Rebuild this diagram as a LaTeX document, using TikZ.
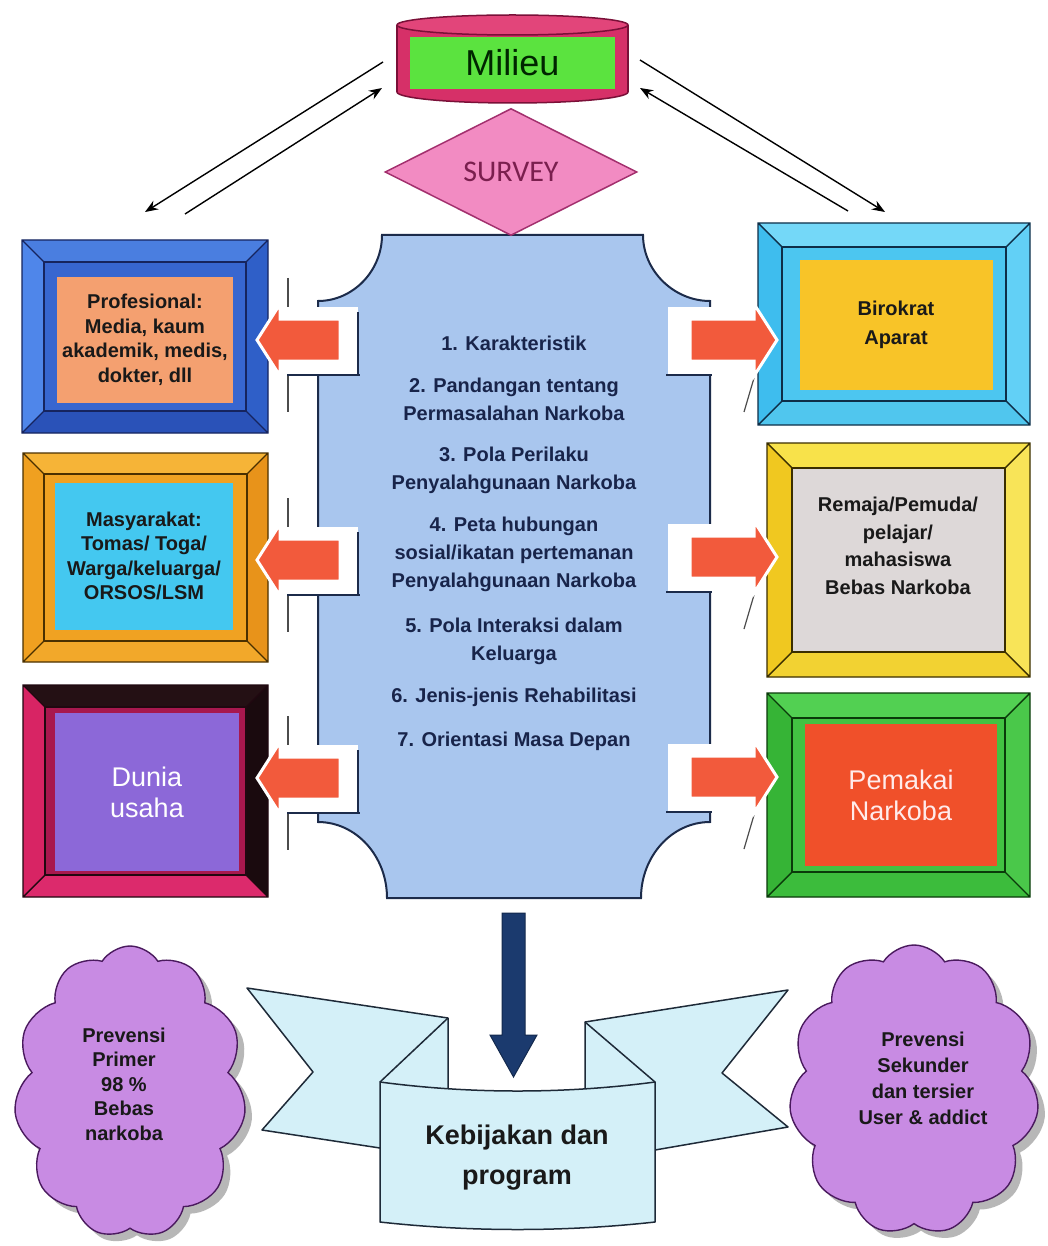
\documentclass[tikz,border=0pt]{standalone}
\usepackage{fontspec}
\setmainfont{Liberation Sans}
\newfontfamily\calib{Carlito}
\usetikzlibrary{shapes.geometric,shapes.symbols,shadows,arrows.meta}

\definecolor{crim}{HTML}{D63068}
\definecolor{crimtop}{HTML}{E2457A}
\definecolor{crimline}{HTML}{7A1038}
\definecolor{milgreen}{HTML}{5BE33F}
\definecolor{survfill}{HTML}{F28BC2}
\definecolor{survline}{HTML}{A3306E}
\definecolor{survtext}{HTML}{7A1F4E}
\definecolor{cblue}{HTML}{A9C6EE}
\definecolor{cline}{HTML}{1C2B4A}
\definecolor{ctext}{HTML}{18244A}
\definecolor{arrred}{HTML}{F25A3C}
\definecolor{navyarr}{HTML}{1B3A6E}
\definecolor{bannerfill}{HTML}{D4F0F8}
\definecolor{bline}{HTML}{1E2A38}
\definecolor{cloudfill}{HTML}{C88BE3}
\definecolor{cloudline}{HTML}{4A1A5E}
\definecolor{bAt}{HTML}{4A7EE0}\definecolor{bAr}{HTML}{2F5FC8}\definecolor{bAb}{HTML}{2A52B8}\definecolor{bAl}{HTML}{4F86EA}\definecolor{bAi}{HTML}{3766D0}\definecolor{bAl2}{HTML}{16245E}\definecolor{salmon}{HTML}{F4A070}
\definecolor{bBt}{HTML}{F6B437}\definecolor{bBr}{HTML}{E8931A}\definecolor{bBb}{HTML}{F2A82A}\definecolor{bBl}{HTML}{F0A020}\definecolor{bBi}{HTML}{F0A222}\definecolor{bBl2}{HTML}{4A3000}\definecolor{cyanbox}{HTML}{44C8F0}
\definecolor{bCt}{HTML}{241014}\definecolor{bCr}{HTML}{1A0A0E}\definecolor{bCb}{HTML}{DC2A6C}\definecolor{bCl}{HTML}{D82464}\definecolor{bCi}{HTML}{A8184E}\definecolor{bCl2}{HTML}{200810}\definecolor{purp}{HTML}{8C68D8}
\definecolor{bDt}{HTML}{74D8F8}\definecolor{bDr}{HTML}{62D0F6}\definecolor{bDb}{HTML}{50C6EE}\definecolor{bDl}{HTML}{3EBDEE}\definecolor{bDi}{HTML}{4CC6F0}\definecolor{bDl2}{HTML}{0E2E48}\definecolor{gold}{HTML}{F8C428}
\definecolor{bEt}{HTML}{F8E24A}\definecolor{bEr}{HTML}{F8E458}\definecolor{bEb}{HTML}{F2D232}\definecolor{bEl}{HTML}{F0C820}\definecolor{bEi}{HTML}{DDD8D8}\definecolor{bEl2}{HTML}{3A2E00}
\definecolor{bFt}{HTML}{52D052}\definecolor{bFr}{HTML}{4AC84A}\definecolor{bFb}{HTML}{3CBC3C}\definecolor{bFl}{HTML}{36B436}\definecolor{bFi}{HTML}{42C242}\definecolor{bFl2}{HTML}{0A3A0A}\definecolor{redbox}{HTML}{F0502A}

% bevel frame: x1 y1 x2 y2 inset top right bottom left ; styles fi (inner fill) and fl (lines)
\newcommand\bevel[9]{%
 \fill[#6] (#1,#2) -- (#3,#2) -- ({#3-#5},{#2+#5}) -- ({#1+#5},{#2+#5}) -- cycle;
 \fill[#7] (#3,#2) -- (#3,#4) -- ({#3-#5},{#4-#5}) -- ({#3-#5},{#2+#5}) -- cycle;
 \fill[#8] (#3,#4) -- (#1,#4) -- ({#1+#5},{#4-#5}) -- ({#3-#5},{#4-#5}) -- cycle;
 \fill[#9] (#1,#4) -- (#1,#2) -- ({#1+#5},{#2+#5}) -- ({#1+#5},{#4-#5}) -- cycle;
 \filldraw[fi,fl] ({#1+#5},{#2+#5}) rectangle ({#3-#5},{#4-#5});
 \draw[fl] (#1,#2) rectangle (#3,#4) (#1,#2) -- ({#1+#5},{#2+#5}) (#3,#2) -- ({#3-#5},{#2+#5}) (#3,#4) -- ({#3-#5},{#4-#5}) (#1,#4) -- ({#1+#5},{#4-#5});
}
\newcommand\leftblock[1]{%
 \draw[line width=1.2pt, black!70] (288,{#1-62}) -- (288,{#1-33}) (288,{#1+35}) -- (288,{#1+72});
 \fill[white] (288,{#1-33}) rectangle (358,{#1+35});
 \draw[cline, line width=1.5pt] (287,{#1+35}) -- (360,{#1+35}) (358,{#1-28}) -- (358,{#1+35});
 \filldraw[fill=arrred, draw=white, line width=3pt, line join=miter] (257,#1) -- (280,{#1-36}) -- (280,{#1-21}) -- (340,{#1-21}) -- (340,{#1+21}) -- (280,{#1+21}) -- (280,{#1+36}) -- cycle;
}
\newcommand\rightblock[1]{%
 \draw[line width=1.2pt, black!70] (754,{#1+38}) -- (744,{#1+72});
 \fill[white] (668,{#1-33}) rectangle (752,{#1+35});
 \draw[cline, line width=1.5pt] (666,{#1+35}) -- (712,{#1+35});
 \filldraw[fill=arrred, draw=white, line width=3pt, line join=miter] (777,#1) -- (754,{#1-36}) -- (754,{#1-21}) -- (690,{#1-21}) -- (690,{#1+21}) -- (754,{#1+21}) -- (754,{#1+36}) -- cycle;
}

\begin{document}
\begin{tikzpicture}[x=1pt,y=-1pt,
  boxtxt/.style={align=center, font=\fontsize{20}{24.5}\selectfont\bfseries, text=black!90, inner sep=0pt},
  bigtxt/.style={align=center, font=\fontsize{27}{31}\selectfont, inner sep=0pt},
  ctxt/.style={align=center, font=\fontsize{20}{28}\selectfont\bfseries, text=ctext, inner sep=0pt},
  thinarrow/.style={line width=1.4pt, -{Stealth[length=13pt,width=10pt]}},
  cloudshape/.style={cloud, cloud puffs=11, cloud puff arc=115, aspect=0.8, fill=cloudfill, draw=cloudline, line width=1.4pt, inner sep=0pt,
     drop shadow={shadow xshift=7pt, shadow yshift=-7pt, fill=black!40, opacity=0.7}},
  cloudtxt/.style={align=center, font=\fontsize{20}{26}\selectfont\bfseries, text=black!90, inner sep=0pt},
  fi/.style={fill=white}, fl/.style={draw=black}]
\useasboundingbox[fill=white] (0,0) rectangle (1048,1246);

% ---------- central shape ----------
\filldraw[fill=cblue, draw=cline, line width=2pt] (382,235) -- (643,235)
  .. controls (643,271) and (674,301) .. (710,301) -- (710,822)
  .. controls (672,822) and (641,856) .. (641,898) -- (387,898)
  .. controls (387,856) and (356,822) .. (318,822) -- (318,301)
  .. controls (353,301) and (382,271) .. cycle;
\node[ctxt] (i1) at (514,343) {1. Karakteristik};
\node[ctxt] (i2) at (514,399) {2. Pandangan tentang\\Permasalahan Narkoba};
\node[ctxt] (i3) at (514,470) {3. Pola Perilaku\\Penyalahgunaan Narkoba};
\node[ctxt] (i4) at (514,554) {4. Peta hubungan\\sosial/ikatan pertemanan\\Penyalahgunaan Narkoba};
\node[ctxt] (i5) at (514,641) {5. Pola Interaksi dalam\\Keluarga};
\node[ctxt] (i6) at (514,697) {6. Jenis-jenis Rehabilitasi};
\node[ctxt] (i7) at (514,741) {7. Orientasi Masa Depan};

% ---------- left boxes ----------
\tikzset{fi/.style={fill=bAi}, fl/.style={draw=bAl2, line width=1.4pt}}
\bevel{22}{240}{268}{433}{22}{bAt}{bAr}{bAb}{bAl}
\node[boxtxt, fill=salmon, minimum width=176pt, minimum height=126pt] (prof) at (145,340)
  {Profesional:\\Media, kaum\\akademik, medis,\\dokter, dll};

\tikzset{fi/.style={fill=bBi}, fl/.style={draw=bBl2, line width=1.4pt}}
\bevel{23}{453}{268}{662}{21}{bBt}{bBr}{bBb}{bBl}
\node[boxtxt, fill=cyanbox, minimum width=178pt, minimum height=147pt] (masy) at (144,556)
  {Masyarakat:\\Tomas/ Toga/\\Warga/keluarga/\\ORSOS/LSM};

\tikzset{fi/.style={fill=bCi}, fl/.style={draw=bCl2, line width=1.4pt}}
\bevel{23}{685}{268}{897}{22}{bCt}{bCr}{bCb}{bCl}
\node[bigtxt, text=white, fill=purp, minimum width=184pt, minimum height=158pt] (dunia) at (147,792)
  {Dunia\\usaha};

% ---------- right boxes ----------
\tikzset{fi/.style={fill=bDi}, fl/.style={draw=bDl2, line width=1.4pt}}
\bevel{758}{223}{1030}{425}{24}{bDt}{bDr}{bDb}{bDl}
\node[boxtxt, fill=gold, minimum width=193pt, minimum height=130pt, font=\fontsize{20}{29}\selectfont\bfseries] (biro) at (896,325)
  {Birokrat\\Aparat};

\tikzset{fi/.style={fill=bEi}, fl/.style={draw=bEl2, line width=1.4pt}}
\bevel{767}{443}{1030}{677}{25}{bEt}{bEr}{bEb}{bEl}
\node[boxtxt, font=\fontsize{20}{27.5}\selectfont\bfseries] (remaja) at (898,546)
  {Remaja/Pemuda/\\pelajar/\\mahasiswa\\Bebas Narkoba};

\tikzset{fi/.style={fill=bFi}, fl/.style={draw=bFl2, line width=1.4pt}}
\bevel{767}{693}{1030}{897}{25}{bFt}{bFr}{bFb}{bFl}
\node[bigtxt, text=red!8, fill=redbox, minimum width=192pt, minimum height=142pt] (pemakai) at (901,795)
  {Pemakai\\Narkoba};

% ---------- block arrows ----------
\leftblock{340}
\leftblock{560}
\leftblock{778}
\rightblock{340}
\rightblock{557}
\rightblock{777}

% ---------- Milieu cylinder ----------
\filldraw[fill=crim, draw=crimline, line width=1.5pt] (512.5,92) ellipse [x radius=115.5, y radius=11];
\fill[crim] (397,25) rectangle (628,92);
\draw[crimline, line width=1.5pt] (397,25) -- (397,92) (628,25) -- (628,92);
\filldraw[fill=crimtop, draw=crimline, line width=1.5pt] (512.5,25) ellipse [x radius=115.5, y radius=10];
\node[fill=milgreen, minimum width=205pt, minimum height=52pt, inner sep=0pt,
      font=\fontsize{36}{36}\selectfont, text=black!85!green] (milieu) at (512.5,63) {Milieu};

% ---------- SURVEY diamond ----------
\node[diamond, aspect=2, minimum width=252pt, minimum height=127pt, inner sep=0pt,
      fill=survfill, draw=survline, line width=1.5pt,
      font=\calib\fontsize{30}{30}\selectfont, text=survtext] (survey) at (511,172) {SURVEY};

% ---------- thin arrows Milieu <-> side boxes ----------
\coordinate (mL1) at (383,62);  \coordinate (pL1) at (145,212);
\coordinate (pL2) at (185,214); \coordinate (mL2) at (382,88);
\coordinate (mR1) at (640,60);  \coordinate (bR1) at (885,212);
\coordinate (bR2) at (848,211); \coordinate (mR2) at (640,88);
\draw[thinarrow] (mL1) -- (pL1);
\draw[thinarrow] (pL2) -- (mL2);
\draw[thinarrow] (mR1) -- (bR1);
\draw[thinarrow] (bR2) -- (mR2);

% ---------- banner ----------
\filldraw[fill=bannerfill, draw=bline, line width=1.5pt, line join=round]
  (247,988) -- (448,1018) -- (448,1100) -- (380,1148) -- (262,1130) -- (313,1072) -- cycle;
\draw[bline, line width=1.5pt] (448,1018) -- (380,1082);
\filldraw[fill=bannerfill, draw=bline, line width=1.5pt, line join=round]
  (788,990) -- (585,1022) -- (585,1100) -- (655,1150) -- (788,1127) -- (722,1073) -- cycle;
\draw[bline, line width=1.5pt] (585,1022) -- (655,1082);
\filldraw[fill=bannerfill, draw=bline, line width=1.5pt, line join=round]
  (380,1082) .. controls (470,1094) and (565,1094) .. (655,1082) -- (655,1222)
  .. controls (565,1232) and (470,1232) .. (380,1222) -- cycle;
\node[align=center, font=\fontsize{27}{40}\selectfont\bfseries, text=black!90, inner sep=0pt] (keb) at (517,1158)
  {Kebijakan dan\\program};

% ---------- down arrow ----------
\coordinate (dTop) at (513.5,913);
\filldraw[fill=navyarr, draw=navyarr!70!black, line width=1pt, line join=miter]
  (502,913) -- (525,913) -- (525,1035) -- (537,1035) -- (513.5,1077) -- (490,1035) -- (502,1035) -- cycle;

% ---------- clouds ----------
\node[cloudshape, minimum width=232pt, minimum height=292pt] (cl1) at (130,1092) {};
\node[cloudtxt, font=\fontsize{20}{24.5}\selectfont\bfseries] (cl1t) at (124,1084)
  {Prevensi\\Primer\\98 \%\\Bebas\\narkoba};
\node[cloudshape, minimum width=250pt, minimum height=290pt] (cl2) at (914,1090) {};
\node[cloudtxt] (cl2t) at (923,1078)
  {Prevensi\\Sekunder\\dan tersier\\User \& addict};
\end{tikzpicture}
\end{document}
